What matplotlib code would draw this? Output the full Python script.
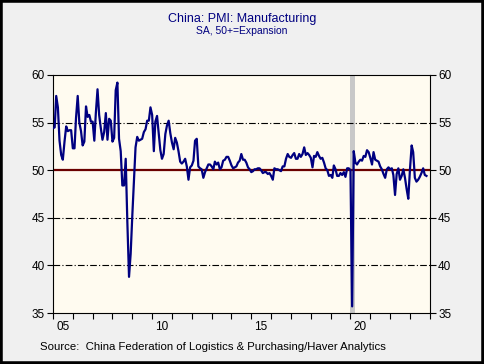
# China PMI manufacturing chart, Haver-style layout

import matplotlib
matplotlib.use('Agg')
import matplotlib.pyplot as plt
import matplotlib.dates as mdates
from matplotlib.patches import Rectangle
import pandas as pd

# monthly values, Jan 2005 .. Nov 2023
pmi_2005_2009 = [
    54.4, 54.5, 57.8, 56.6, 53.1, 51.6, 51.1, 53.0, 54.6, 54.1, 54.2, 54.2,
    52.3, 52.3, 55.5, 57.8, 55.0, 54.1, 52.6, 53.0, 56.7, 55.6, 55.8, 55.1,
    55.1, 53.1, 56.0, 58.5, 55.8, 54.4, 53.2, 54.0, 56.0, 53.2, 55.4, 55.2,
    53.0, 53.4, 58.4, 59.2, 53.3, 52.0, 48.4, 48.4, 51.2, 44.6, 38.8, 41.2,
    45.3, 49.0, 52.4, 53.5, 53.1, 53.2, 53.3, 54.0, 54.3, 55.2, 55.2, 56.6,
]
pmi_2010_2014 = [
    55.8, 52.0, 55.1, 55.7, 53.9, 52.1, 51.2, 51.7, 53.8, 54.7, 55.2, 53.9,
    52.9, 52.2, 53.4, 52.9, 52.0, 50.9, 50.7, 50.9, 51.2, 50.4, 49.0, 50.3,
    50.5, 51.0, 53.1, 53.3, 50.4, 50.2, 50.1, 49.2, 49.8, 50.2, 50.6, 50.6,
    50.4, 50.1, 50.9, 50.6, 50.8, 50.1, 50.3, 51.0, 51.1, 51.4, 51.4, 51.0,
    50.5, 50.2, 50.3, 50.4, 50.8, 51.0, 51.7, 51.1, 51.1, 50.8, 50.3, 50.1,
]
pmi_2015_2019 = [
    49.8, 49.9, 50.1, 50.1, 50.2, 50.2, 50.0, 49.7, 49.8, 49.8, 49.6, 49.7,
    49.4, 49.0, 50.2, 50.1, 50.1, 50.0, 49.9, 50.4, 50.4, 51.2, 51.7, 51.4,
    51.3, 51.6, 51.8, 51.2, 51.2, 51.7, 51.4, 51.7, 52.4, 51.6, 51.8, 51.6,
    51.3, 50.3, 51.5, 51.4, 51.9, 51.5, 51.2, 51.3, 50.8, 50.2, 50.0, 49.4,
    49.5, 49.2, 50.5, 50.1, 49.4, 49.4, 49.7, 49.5, 49.8, 49.3, 50.2, 50.2,
]
pmi_2020_2023 = [
    50.0, 35.7, 52.0, 50.8, 50.6, 50.9, 51.1, 51.0, 51.5, 51.4, 52.1, 51.9,
    51.3, 50.6, 51.9, 51.1, 51.0, 50.9, 50.4, 50.1, 49.6, 49.2, 50.1, 50.3,
    50.1, 50.2, 49.5, 47.4, 49.6, 50.2, 49.0, 49.4, 50.1, 49.2, 48.0, 47.0,
    50.1, 52.6, 51.9, 49.2, 48.8, 49.0, 49.3, 49.7, 50.2, 49.5, 49.4,
]
pmi = pmi_2005_2009 + pmi_2010_2014 + pmi_2015_2019 + pmi_2020_2023
dates = pd.date_range("2005-01-01", periods=len(pmi), freq="MS")

year_labels = ["05", "10", "15", "20"]
label_years = [2005, 2010, 2015, 2020]
y_ticks = [35, 40, 45, 50, 55, 60]
grid_levels = [40, 45, 55]
shade_start, shade_end = "2020-01-01", "2020-04-01"

navy = "#000080"
plt.rcParams['font.family'] = ['Liberation Sans', 'DejaVu Sans']

fig = plt.figure(figsize=(4.84, 3.64), dpi=100, facecolor="#F0F0F0")
ax = fig.add_axes([0.1095, 0.140, 0.7785, 0.654])
ax.set_facecolor("#FFFBF0")

ax.axvspan(pd.Timestamp(shade_start), pd.Timestamp(shade_end),
           color="#C8C8C8", lw=0, zorder=1)
for lvl in grid_levels:
    ax.axhline(lvl, color="black", lw=0.8, dashes=(6, 2, 1, 2), zorder=2)
ax.axhline(50, color="#6B0000", lw=1.6, zorder=2)

ax.plot(dates, pmi, color=navy, lw=1.6, zorder=3)

ax.set_ylim(35, 60)
ax.set_xlim(pd.Timestamp("2005-01-01"), pd.Timestamp("2024-01-01"))
ax.set_yticks(y_ticks)
ax.tick_params(axis="y", which="both", right=True, labelright=True,
               direction="out", length=4, labelsize=8.5, pad=2)

ax.xaxis.set_major_locator(mdates.YearLocator(1))
ax.xaxis.set_major_formatter(plt.NullFormatter())
ax.set_xticks([pd.Timestamp(f"{y}-07-01") for y in label_years], minor=True)
ax.set_xticklabels(year_labels, minor=True)
ax.tick_params(axis="x", which="major", direction="out", length=4)
ax.tick_params(axis="x", which="minor", length=0, labelsize=8.5, pad=6)

for sp in ax.spines.values():
    sp.set_color("black")
    sp.set_linewidth(0.8)

fig.text(0.5, 0.948, "China: PMI: Manufacturing", ha="center", va="center",
         fontsize=9, color=navy)
fig.text(0.5, 0.915, "SA, 50+=Expansion", ha="center", va="center",
         fontsize=7.5, color=navy)
fig.text(0.083, 0.048, "Source:  China Federation of Logistics & Purchasing/Haver Analytics",
         ha="left", va="center", fontsize=8.2, color="black")

fig.patches.append(Rectangle((0, 0), 1, 1, transform=fig.transFigure,
                             fill=False, edgecolor="black", lw=4))

fig.savefig("out.png", dpi=100, facecolor=fig.get_facecolor())
